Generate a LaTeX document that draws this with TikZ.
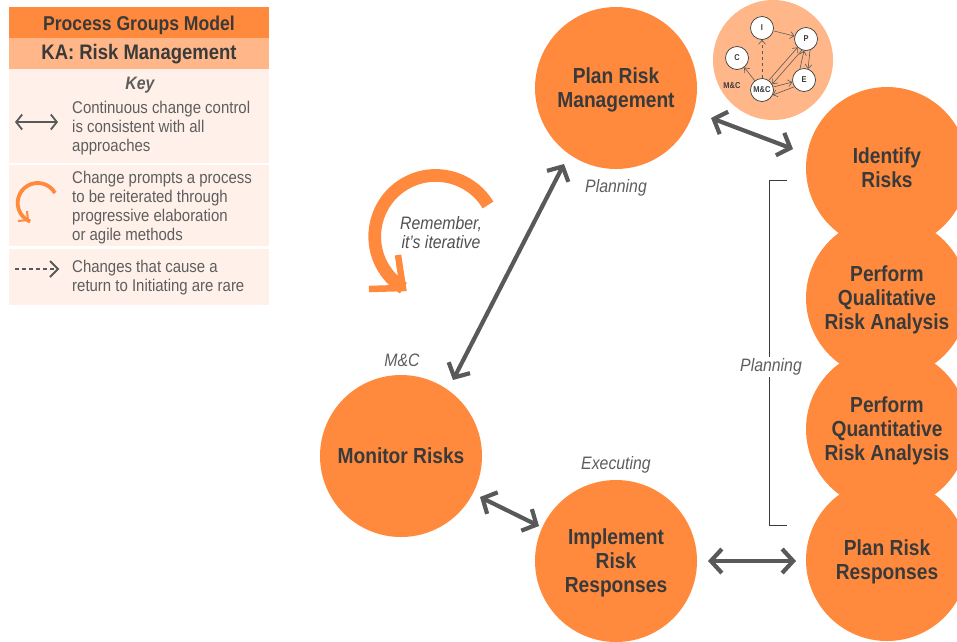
\documentclass[tikz,border=0pt]{standalone}
\usepackage{fontspec}
\setmainfont[FakeStretch=0.88]{Liberation Sans}
\usetikzlibrary{arrows.meta}
\definecolor{procorange}{HTML}{FF8A3D}
\definecolor{lightorange}{HTML}{FFB78A}
\definecolor{keypanel}{HTML}{FFF1E9}
\definecolor{darktext}{HTML}{3A3A3A}
\definecolor{greytext}{HTML}{5E5E5E}
\definecolor{arrowgrey}{HTML}{595959}
\tikzset{
  procnode/.style={circle, fill=procorange, minimum size=162pt, inner sep=0pt, align=center, text=darktext, text depth=0pt, font=\fontsize{21.8}{24}\selectfont\bfseries},
  phaselabel/.style={text=greytext, font=\fontsize{18}{19}\selectfont\itshape, inner sep=1pt},
  keytext/.style={anchor=west, align=left, text=greytext, inner sep=0pt, font=\fontsize{17}{19}\selectfont},
  bigarrow/.style={draw=arrowgrey, line width=4.2pt, {Straight Barb[length=11pt,width=24pt]}-{Straight Barb[length=11pt,width=24pt]}},
  keyarrow/.style={draw=arrowgrey, line width=1.8pt},
  smallnode/.style={circle, draw=darktext, fill=white, line width=0.7pt, minimum size=23pt, inner sep=0pt, text=darktext, font=\fontsize{8.5}{9}\selectfont\bfseries},
  smallarrow/.style={draw=arrowgrey, line width=0.6pt, -{Straight Barb[length=4pt,width=7pt]}}
}
\begin{document}
\begin{tikzpicture}[x=1pt, y=-1pt]
    \useasboundingbox (0,0) rectangle (957,641);
    \clip (0,0) rectangle (957,641);

    % Key panel
    \fill[procorange] (9,7) rectangle (269,38);
    \fill[lightorange] (9,38) rectangle (269,69);
    \fill[keypanel] (9,69) rectangle (269,163);
    \fill[keypanel] (9,165) rectangle (269,246);
    \fill[keypanel] (9,249) rectangle (269,305);
    \node[text=darktext, font=\fontsize{20}{22}\selectfont\bfseries] (keytitle) at (139,25) {Process Groups Model};
    \node[text=darktext, font=\fontsize{21}{22}\selectfont\bfseries] (keyarea) at (139,54) {KA: Risk Management};
    \node[text=greytext, font=\fontsize{18}{20}\selectfont\bfseries\itshape] (keyhead) at (140,85) {Key};
    \node[keytext] (keyone) at (72,128) {Continuous change control\\is consistent with all\\approaches};
    \node[keytext] (keytwo) at (72,208) {Change prompts a process\\to be reiterated through\\progressive elaboration\\or agile methods};
    \node[keytext] (keythree) at (72,278) {Changes that cause a\\return to Initiating are rare};

    % Key symbols
    \coordinate (keyleft) at (15,122);
    \coordinate (keyright) at (58,122);
    \draw[keyarrow, {Straight Barb[length=6pt,width=15pt]}-{Straight Barb[length=6pt,width=15pt]}] (keyleft) -- (keyright);
    \draw[procorange, line width=3.8pt] (55,193) arc[start angle=30, end angle=248, radius=20pt];
    \draw[procorange, line width=2pt, miter limit=10] (18,221) -- (28,220) -- (27,211);
    \coordinate (dashleft) at (15,269);
    \coordinate (dashright) at (58,269);
    \draw[keyarrow, dashed, dash pattern=on 4pt off 3pt] (dashleft) -- (54,269);
    \draw[keyarrow] (50,261) -- (dashright) -- (50,277);

    % Iterative arrow
    \draw[procorange, line width=12.7pt] (488,205) arc[start angle=31, end angle=238, radius=61pt];
    \draw[procorange, line width=6.5pt, miter limit=10] (369,289) -- (403,288) -- (398,255);
    \node[text=greytext!85!black, align=center, inner sep=0pt, font=\fontsize{18}{19}\selectfont\itshape] (iterlabel) at (441,233) {Remember,\\it's iterative};

    % Inset
    \fill[lightorange] (773,60) circle[radius=60pt];
    \node[smallnode] (ismall) at (762,28) {I};
    \node[smallnode] (psmall) at (806,39) {P};
    \node[smallnode] (csmall) at (737,58) {C};
    \node[smallnode] (esmall) at (804,80) {E};
    \node[smallnode] (msmall) at (762,90) {M\&C};
    \node[text=darktext, font=\fontsize{8.5}{9}\selectfont\bfseries] (mclabel) at (732,86) {M\&C};
    \draw[smallarrow] (msmall) -- (csmall);
    \draw[smallarrow, dashed] (msmall) -- (ismall);
    \draw[smallarrow] (ismall) -- (psmall);
    \draw[smallarrow] (msmall.55) -- (psmall.225);
    \draw[smallarrow] (psmall.250) -- (msmall.30);
    \draw[smallarrow] (psmall.-70) -- (esmall.70);
    \draw[smallarrow] (esmall.110) -- (psmall.-100);
    \draw[smallarrow] (msmall.15) -- (esmall.190);
    \draw[smallarrow] (esmall.215) -- (msmall.-25);

    % Process circles
    \node[procnode] (planrisk) at (616,88) {Plan Risk\\Management};
    \node[procnode] (identify) at (887,168) {Identify\\Risks};
    \node[procnode] (qualitative) at (887,298) {Perform\\Qualitative\\Risk Analysis};
    \node[procnode] (quantitative) at (887,429) {Perform\\Quantitative\\Risk Analysis};
    \node[procnode] (responses) at (887,560) {Plan Risk\\Responses};
    \node[procnode] (implement) at (616,561) {Implement\\Risk\\Responses};
    \node[procnode] (monitor) at (401,456) {Monitor Risks};

    % Phase labels
    \node[phaselabel] (planlabel) at (616,188) {Planning};
    \node[phaselabel] (mcphase) at (402,360) {M\&C};
    \node[phaselabel] (execlabel) at (616,465) {Executing};

    % Planning bracket
    \coordinate (bracktop) at (787,180);
    \coordinate (brackbot) at (787,525);
    \draw[darktext, line width=1pt] (bracktop) -- (769,180) -- (769,525) -- (brackbot);
    \node[phaselabel, fill=white, inner sep=2pt] (bracklabel) at (771,367) {Planning};

    % Big arrows
    \coordinate (planend) at (711,118);
    \coordinate (identend) at (793,149);
    \coordinate (plandown) at (564,164);
    \coordinate (monup) at (453,380);
    \coordinate (monend) at (480,497);
    \coordinate (implup) at (539,526);
    \coordinate (implend) at (708,561);
    \coordinate (respend) at (796,561);
    \draw[bigarrow] (planend) -- (identend);
    \draw[bigarrow] (plandown) -- (monup);
    \draw[bigarrow] (monend) -- (implup);
    \draw[bigarrow] (implend) -- (respend);
\end{tikzpicture}
\end{document}
